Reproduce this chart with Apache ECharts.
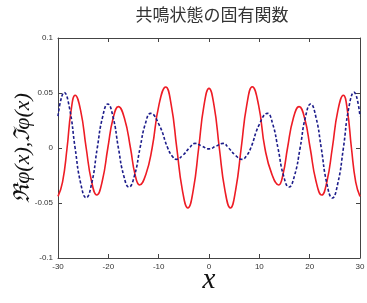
<!DOCTYPE html>
<html>
<head>
<meta charset="utf-8">
<script src="https://cdn.jsdelivr.net/npm/echarts@6/dist/echarts.min.js"></script>
<style>
  html, body { margin: 0; padding: 0; background: #fff; }
  #chart { width: 367px; height: 303px; }
</style>
</head>
<body>
<div id="chart"></div>
<script>
const reX = [-30, -29.1, -28.2, -27.4, -26.6, -25.5, -24.4, -23.35, -22.3, -21.2, -20.1, -19.05, -18.0, -16.8,
  -15.6, -14.7, -13.8, -12.55, -11.3, -9.95, -8.6, -7.5, -6.4, -5.3, -4.2, -3.12, -2.05, -1.02, 0,
  1.02, 2.05, 3.15, 4.25, 5.3, 6.4, 7.5, 8.6, 9.85, 11.1, 12.5, 13.85, 14.7, 15.6, 16.75, 17.9,
  19.0, 20.1, 21.25, 22.4, 23.45, 24.5, 25.6, 26.7, 27.5, 28.3, 29.15, 30]
const reY = [-0.044, -0.031, 0, 0.034, 0.048, 0.034, 0, -0.030, -0.0427, -0.030, 0, 0.027, 0.0376, 0.027,
  0, -0.024, -0.0336, -0.024, 0, 0.039, 0.0555, 0.039, 0, -0.038, -0.0545, -0.038, 0, 0.038, 0.0542,
  0.038, 0, -0.038, -0.0545, -0.038, 0, 0.039, 0.0557, 0.039, 0, -0.024, -0.0336, -0.024, 0, 0.027, 0.0376,
  0.027, 0, -0.030, -0.0427, -0.030, 0, 0.034, 0.048, 0.034, 0, -0.031, -0.044]

// imaginary part (blue dashed)
const imX = [-30, -28.75, -27.7, -26.6, -25.5, -24.4, -23.3, -22.2, -21.15, -20.1, -19.05, -18.0, -16.95,
  -15.9, -14.8, -13.7, -12.65, -11.6, -9.9, -8.2, -7.3, -6.5, -5.2, -3.9, -2.8, -1.4, 0,
  1.4, 2.8, 3.9, 5.25, 6.6, 7.4, 8.3, 9.95, 11.6, 12.65, 13.7, 14.8, 15.9, 17.0, 18.1, 19.15, 20.2,
  21.25, 22.3, 23.4, 24.5, 25.6, 26.7, 27.75, 28.8, 30]
const imY = [0.029, 0.0505, 0.036, 0, -0.032, -0.0452, -0.032, 0, 0.028, 0.040, 0.028, 0, -0.025,
  -0.0355, -0.025, 0, 0.022, 0.0315, 0.021, 0, -0.0075, -0.0103, -0.0066, 0, 0.0042, 0.0017, -0.0008,
  0.0017, 0.0042, 0, -0.0066, -0.0103, -0.0075, 0, 0.021, 0.0315, 0.022, 0, -0.025, -0.0355, -0.025, 0, 0.028, 0.040,
  0.028, 0, -0.032, -0.0455, -0.032, 0, 0.036, 0.0508, 0.029]

const xTicks = { min: -30, max: 30, interval: 10 }
const yTicks = { min: -0.1, max: 0.1, interval: 0.05 }

const pairs = (xs, ys) => xs.map((x, i) => [x, ys[i]])

const axisLine = { show: true, onZero: false, lineStyle: { color: '#444', width: 1 } }
const axisTick = { show: true, inside: true, length: 4, lineStyle: { color: '#444' } }
const tickLabel = { color: '#333', fontSize: 8, fontFamily: 'Liberation Sans' }

const chart = echarts.init(document.getElementById('chart'))
chart.setOption({
  animation: false,
  title: {
    text: '共鳴状態の固有関数',
    left: 207,
    textAlign: 'center',
    top: 1,
    textStyle: { fontFamily: 'Noto Sans CJK JP', fontSize: 17, fontWeight: 'normal', color: '#333' }
  },
  grid: { left: 58, right: 7, top: 38, bottom: 45, outerBoundsMode: 'none' },
  xAxis: [
    {
      type: 'value', ...xTicks,
      axisLine, axisTick,
      axisLabel: { ...tickLabel, margin: 5 },
      splitLine: { show: false },
      name: 'x',
      nameLocation: 'middle',
      nameGap: 8,
      nameMoveOverlap: false,
      nameTextStyle: { fontFamily: 'Liberation Serif', fontStyle: 'italic', fontSize: 29, color: '#111' }
    },
    {
      type: 'value', position: 'top', ...xTicks,
      axisLine, axisTick,
      axisLabel: { show: false },
      splitLine: { show: false }
    }
  ],
  yAxis: [
    {
      type: 'value', ...yTicks,
      axisLine, axisTick,
      axisLabel: { ...tickLabel, margin: 5 },
      splitLine: { show: false },
      name: 'ℜφ(x),ℑφ(x)',
      nameLocation: 'middle',
      nameGap: 24,
      nameMoveOverlap: false,
      nameTextStyle: { fontFamily: 'Liberation Serif', fontStyle: 'italic', fontSize: 22, color: '#111' }
    },
    {
      type: 'value', position: 'right', ...yTicks,
      axisLine, axisTick,
      axisLabel: { show: false },
      splitLine: { show: false }
    }
  ],
  series: [
    {
      type: 'line',
      name: 'Re',
      data: pairs(reX, reY),
      smooth: 0.5,
      showSymbol: false,
      lineStyle: { color: '#ee1c25', width: 1.6 }
    },
    {
      type: 'line',
      name: 'Im',
      data: pairs(imX, imY),
      smooth: 0.5,
      showSymbol: false,
      lineStyle: { color: '#1c1c8a', width: 1.6, type: [3, 2] }
    }
  ]
})
</script>
</body>
</html>
